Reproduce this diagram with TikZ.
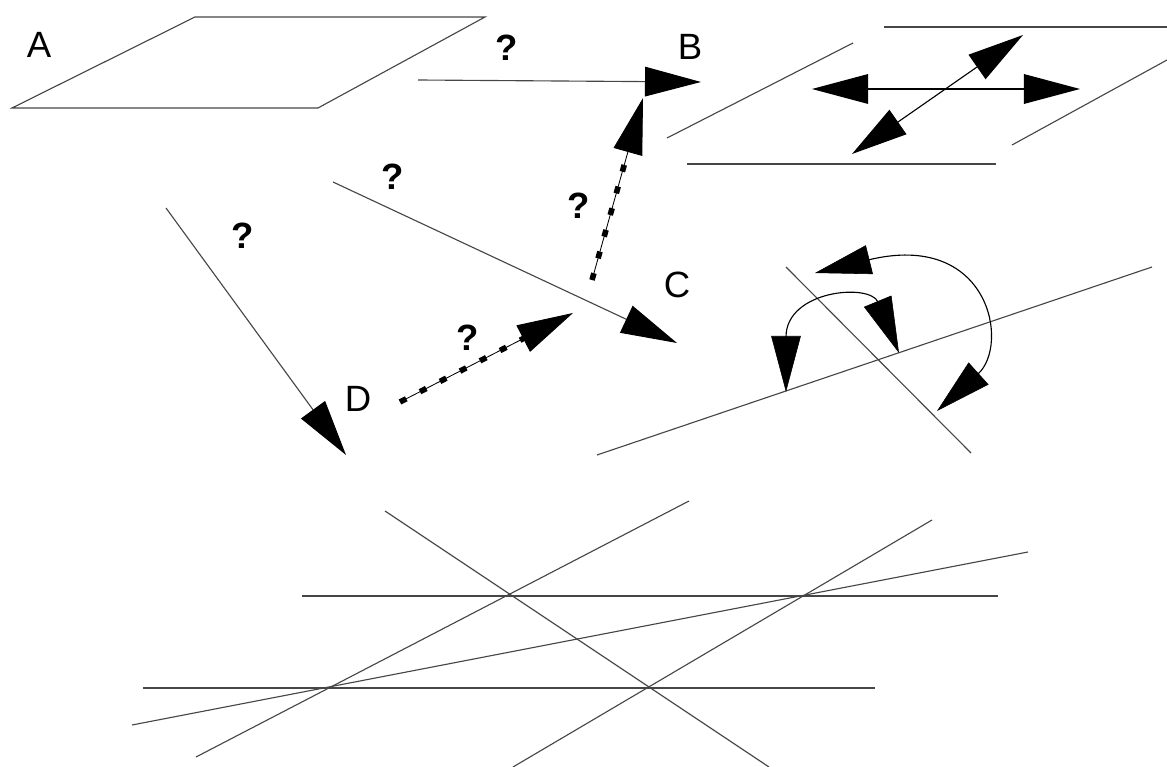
\documentclass[tikz,border=0pt]{standalone}
\usepackage{fontspec}
\setmainfont{Liberation Sans}
\usetikzlibrary{arrows.meta}
\definecolor{linegray}{RGB}{70,70,70}
\tikzset{
    lab/.style={
        font=\fontsize{26}{30}\selectfont, inner sep=0pt
    },
    qlab/.style={
        font=\bfseries\fontsize{26}{30}\selectfont, inner sep=0pt
    }
}

\begin{document}
\begin{tikzpicture}[x=0.025cm,y=-0.025cm, line cap=butt, line join=miter]

% background
\useasboundingbox (0,0) rectangle (1167,767);

\tikzset{
  main/.style={draw=linegray, line width=0.8pt},
  head/.tip={Triangle[length=1.4cm,width=0.74cm,color=black]},
  arr/.style={-head},
  dbl/.style={head-head},
  dots/.style={draw=black, line width=0.6pt,
    postaction={draw, -, line width=4pt, dash pattern=on 5pt off 11pt, shorten >=1.3cm}},
}

% plane A
\coordinate (A1) at (12,108);
\coordinate (A2) at (195,17);
\coordinate (A3) at (485,17);
\coordinate (A4) at (318,108);
\draw[main] (A1) -- (A2) -- (A3) -- (A4) -- cycle;

% arrows round B, C, D
\coordinate (P1) at (418,80);
\coordinate (B)  at (701,82);
\coordinate (P2) at (592,280);
\coordinate (Bu) at (643,98);
\coordinate (P3) at (333,182);
\coordinate (C)  at (677,343);
\coordinate (P4) at (166,208);
\coordinate (D)  at (346,455);
\coordinate (P5) at (400,402);
\coordinate (Cd) at (573,313);

\draw[main, arr] (P1) -- (B);
\draw[dots, arr] (P2) -- (Bu);
\draw[main, arr] (P3) -- (C);
\draw[main, arr] (P4) -- (D);
\draw[dots, arr] (P5) -- (Cd);

% parallel lines, top right
\coordinate (R1) at (884,27);
\coordinate (R2) at (1167,27);
\coordinate (R3) at (687,164);
\coordinate (R4) at (996,164);
\coordinate (R5) at (667,138);
\coordinate (R6) at (853,43);
\coordinate (R7) at (1012,145);
\coordinate (R8) at (1167,60);
\draw[main] (R1) -- (R2);
\draw[main] (R3) -- (R4);
\draw[main] (R5) -- (R6);
\draw[main] (R7) -- (R8);

\coordinate (H1) at (812,89);
\coordinate (H2) at (1080,89);
\coordinate (G1) at (852,154);
\coordinate (G2) at (1023,35);
\draw[main, draw=black, dbl] (H1) -- (H2);
\draw[main, draw=black, dbl] (G1) -- (G2);

% crossing lines with angles
\coordinate (K1) at (597,455);
\coordinate (K2) at (1152,267);
\coordinate (K3) at (786,267);
\coordinate (K4) at (971,453);
\draw[main] (K1) -- (K2);
\draw[main] (K3) -- (K4);

\coordinate (O1) at (868,260);
\coordinate (O2) at (978,374);
\coordinate (T1) at (815,273);
\coordinate (T2) at (937,411);
\draw[main, draw=black] (O1) .. controls (990,230) and (1010,345) .. (O2);
\draw[arr] (O1) -- (T1);
\draw[arr] (O2) -- (T2);

\coordinate (I1) at (786,337);
\coordinate (I2) at (878,302);
\coordinate (T3) at (786,392);
\coordinate (T4) at (899,353);
\draw[main, draw=black] (I1) .. controls (786,290) and (870,283) .. (I2);
\draw[arr] (I1) -- (T3);
\draw[arr] (I2) -- (T4);

% six lines, bottom
\coordinate (L1a) at (302,596);
\coordinate (L1b) at (998,596);
\coordinate (L2a) at (143,688);
\coordinate (L2b) at (875,688);
\coordinate (L3a) at (385,511);
\coordinate (L3b) at (769,767);
\coordinate (L4a) at (689,501);
\coordinate (L4b) at (196,757);
\coordinate (L5a) at (932,520);
\coordinate (L5b) at (513,767);
\coordinate (L6a) at (1028,552);
\coordinate (L6b) at (132,725);
\draw[main] (L1a) -- (L1b);
\draw[main] (L2a) -- (L2b);
\draw[main] (L3a) -- (L3b);
\draw[main] (L4a) -- (L4b);
\draw[main] (L5a) -- (L5b);
\draw[main] (L6a) -- (L6b);

% labels
\node[lab] (labA) at (39,45) {A};
\node[lab] (labB) at (690,47) {B};
\node[lab] (labC) at (677,285) {C};
\node[lab] (labD) at (358,399) {D};

\node[qlab] (q1) at (507,48) {?};
\node[qlab] (q2) at (393,177) {?};
\node[qlab] (q3) at (243,236) {?};
\node[qlab] (q4) at (579,206) {?};
\node[qlab] (q5) at (468,338) {?};

\end{tikzpicture}
\end{document}
